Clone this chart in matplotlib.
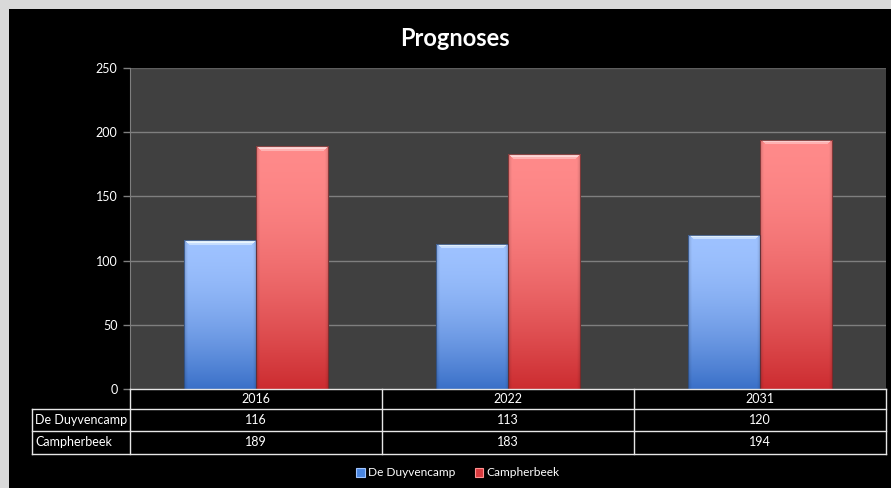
import numpy as np
import matplotlib
matplotlib.use("Agg")
import matplotlib.pyplot as plt
from matplotlib.patches import Rectangle
from matplotlib.lines import Line2D

plt.rcParams['font.family'] = ['Lato', 'DejaVu Sans']

years = ["2016", "2022", "2031"]
series_names = ["De Duyvencamp", "Campherbeek"]
duyvencamp = [116, 113, 120]
campherbeek = [189, 183, 194]
y_ticks = [0, 50, 100, 150, 200, 250]

W, H = 891, 488
fig = plt.figure(figsize=(W / 100, H / 100), dpi=100, facecolor="#d9d9d9")


def fx(px):
    return px / W


def fy(py):
    return 1 - py / H


# black chart surface inside the light frame
fig.patches.append(Rectangle((fx(9), 0), 1 - fx(9), fy(9), transform=fig.transFigure,
                             facecolor="black", edgecolor="none", zorder=-10))

L, R, T, B = 130, 886, 68, 389
ax = fig.add_axes([fx(L), fy(B), fx(R) - fx(L), fy(T) - fy(B)])
ax.set_facecolor("#404040")

for v in y_ticks[1:]:
    ax.axhline(v, color="#7f7f7f" if v < 250 else "#5e5e5e", lw=1.0, zorder=1)

px_per_unit = (B - T) / 250.0
bar_w = 0.286


def gradient_image(h_units, top, bottom):
    rows = max(int(h_units * px_per_unit), 8)
    cols = 72
    top = np.array(matplotlib.colors.to_rgb(top))
    bottom = np.array(matplotlib.colors.to_rgb(bottom))
    t = np.linspace(0, 1, rows)[:, None]  # 0 at bottom, 1 at top
    t = 1 - (1 - t) ** 1.7
    img = bottom[None, None, :] * (1 - t[..., None]) + top[None, None, :] * t[..., None]
    img = np.repeat(img, cols, axis=1)
    # soft darkening at the side edges
    xs = np.linspace(0, 1, cols)
    edge = 1 - 0.14 * (np.clip(1 - np.minimum(xs, 1 - xs) / 0.05, 0, 1))
    img = img * edge[None, :, None]
    # bevelled highlight along the top
    hl = np.minimum(top + 0.35, 1.0)
    for r in range(5):
        row = rows - 1 - r
        lo, hi = r + 1, cols - r - 1
        mix = 0.85 if r in (1, 2) else 0.45
        img[row, lo:hi] = img[row, lo:hi] * (1 - mix) + hl * mix
    return np.clip(img, 0, 1)


x = np.arange(len(years))
styles = [
    (duyvencamp, -bar_w / 2, "#9ec2ff", "#3a70c8", "#4a80da", "#2c4a78"),
    (campherbeek, bar_w / 2, "#ff8a8a", "#cc2c30", "#d83a3e", "#6a2a2a"),
]
for vals, off, ctop, cbot, base, dark in styles:
    bars = ax.bar(x + off, vals, width=bar_w, color=base, edgecolor="none", zorder=2)
    for b, v in zip(bars, vals):
        x0 = b.get_x()
        im = ax.imshow(gradient_image(v, ctop, cbot), extent=(x0, x0 + bar_w, 0, v),
                       origin="lower", aspect="auto", zorder=3, interpolation="bilinear")
        im.set_clip_path(b)
        ax.add_patch(Rectangle((x0, 0), bar_w, v, facecolor="none", edgecolor=dark,
                               lw=0.8, alpha=0.8, zorder=4))

ax.set_xlim(-0.5, 2.5)
ax.set_ylim(0, 250)
ax.set_yticks(y_ticks)
ax.set_yticklabels([str(v) for v in y_ticks], color="white", fontsize=9)
ax.tick_params(axis="y", length=5, width=1, color="#7f7f7f", pad=4)
ax.set_xticks([])
for s in ["top", "right", "bottom"]:
    ax.spines[s].set_visible(False)
ax.spines["left"].set_color("#7f7f7f")

fig.text(fx(455), fy(38), "Prognoses", ha="center", va="center",
         color="white", fontsize=17, fontweight="bold")

# data table under the axis
tcol = "#e6e6e6"
col_edges = [L, 382, 634, R]
row_edges = [B, 409, 431, 454]
line_kw = dict(transform=fig.transFigure, color=tcol, lw=1.0)
fig.add_artist(Line2D([fx(L), fx(R)], [fy(B), fy(B)], **line_kw))
for yy in row_edges[1:]:
    fig.add_artist(Line2D([fx(32), fx(R)], [fy(yy), fy(yy)], **line_kw))
for xx in col_edges:
    fig.add_artist(Line2D([fx(xx), fx(xx)], [fy(B), fy(454)], **line_kw))
fig.add_artist(Line2D([fx(32), fx(32)], [fy(409), fy(454)], **line_kw))

rows = [years, [str(v) for v in duyvencamp], [str(v) for v in campherbeek]]
for ri, row in enumerate(rows):
    yc = (row_edges[ri] + row_edges[ri + 1]) / 2
    for ci, txt in enumerate(row):
        xc = (col_edges[ci] + col_edges[ci + 1]) / 2
        fig.text(fx(xc), fy(yc), txt, ha="center", va="center", color="white", fontsize=9)
for ri, name in enumerate(series_names):
    yc = (row_edges[ri + 1] + row_edges[ri + 2]) / 2
    fig.text(fx(35), fy(yc), name, ha="left", va="center", color="white", fontsize=9)

handles = [Rectangle((0, 0), 1, 1, facecolor="#4a86e0", edgecolor="#a0c4ff", lw=0.8),
           Rectangle((0, 0), 1, 1, facecolor="#d83a3e", edgecolor="#ff9090", lw=0.8)]
fig.legend(handles, series_names, loc="center", bbox_to_anchor=(fx(458), fy(473)),
           ncol=2, frameon=False, fontsize=8.6, labelcolor="white",
           handlelength=0.7, handleheight=0.7, handletextpad=0.3, columnspacing=1.6)

fig.savefig("out.png", dpi=100, facecolor=fig.get_facecolor())
